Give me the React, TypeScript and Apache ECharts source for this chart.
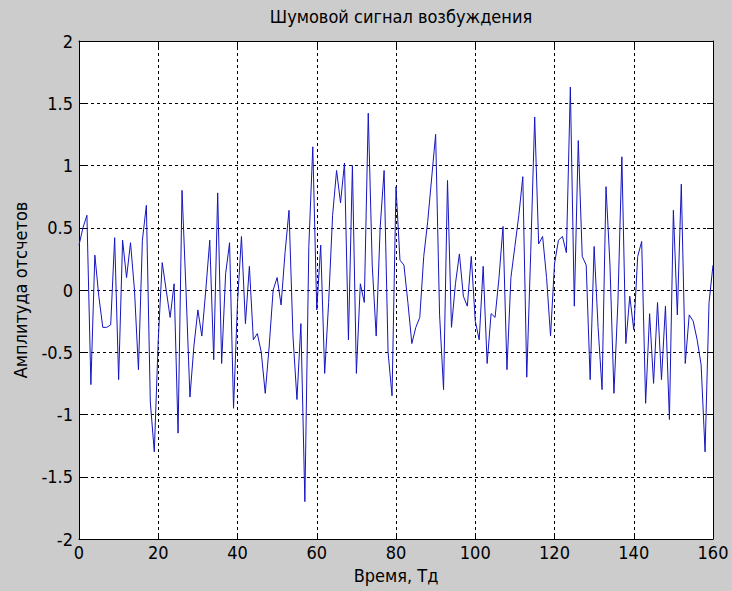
import { useEffect, useRef } from "react";
import * as echarts from "echarts";

const TITLE = "Шумовой сигнал возбуждения";
const X_NAME = "Время, Тд";
const Y_NAME = "Амплитуда отсчетов";
const X_MIN = 0;
const X_MAX = 160;
const X_STEP = 20;
const Y_MIN = -2;
const Y_MAX = 2;
const Y_STEP = 0.5;

// samples of the noise signal, one per Td (t = 0 … 160)
const signal = [
  0.36, 0.5, 0.6, -0.76, 0.28, -0.05, -0.3, -0.3, -0.28, 0.42,
  -0.72, 0.4, 0.1, 0.38, 0.0, -0.64, 0.4, 0.68, -0.9, -1.3,
  -0.4, 0.22, 0.0, -0.22, 0.05, -1.15, 0.8, 0.0, -0.86, -0.45,
  -0.16, -0.37, 0.0, 0.4, -0.56, 0.78, -0.59, 0.13, 0.38, -0.95,
  -0.1, 0.43, -0.27, 0.19, -0.4, -0.35, -0.5, -0.83, -0.45, 0.0,
  0.1, -0.12, 0.3, 0.64, -0.37, -0.88, -0.27, -1.7, 0.35, 1.15,
  -0.16, 0.36, -0.67, -0.1, 0.6, 0.96, 0.7, 1.02, -0.4, 1.0,
  -0.67, 0.05, -0.1, 1.42, 0.2, -0.37, 0.5, 0.96, -0.5, -0.85,
  0.83, 0.24, 0.2, -0.1, -0.43, -0.3, -0.22, 0.27, 0.55, 0.9,
  1.25, -0.2, -0.8, 0.88, -0.3, 0.05, 0.29, -0.05, -0.13, 0.27,
  -0.25, -0.4, 0.19, -0.59, -0.19, -0.22, 0.1, 0.51, -0.64, 0.1,
  0.35, 0.6, 0.91, -0.7, 0.3, 1.39, 0.37, 0.43, 0.1, -0.37,
  0.21, 0.4, 0.43, 0.3, 1.63, -0.13, 1.2, 0.27, 0.2, -0.72,
  0.35, -0.3, -0.8, 0.83, 0.2, -0.83, -0.1, 1.07, -0.43, -0.05,
  -0.32, 0.27, 0.39, -0.91, -0.19, -0.75, -0.1, -0.72, -0.13, -1.04,
  0.64, -0.2, 0.85, -0.59, -0.2, -0.25, -0.4, -0.6, -1.3, -0.1,
  0.2,
];

const FONT = "'Liberation Sans Narrow', 'DejaVu Sans Condensed', 'Liberation Sans', sans-serif";

export default function App() {
  const ref = useRef<HTMLDivElement>(null);
  useEffect(() => {
    document.body.style.margin = "0";
    const chart = echarts.init(ref.current!, null, { renderer: "svg" });
    const axisLine = { show: true, onZero: false, lineStyle: { color: "#000", width: 1 } };
    const axisTick = { show: true, inside: true, length: 6, lineStyle: { color: "#000", width: 1 } };
    const splitLine = { show: true, lineStyle: { color: "#000", width: 1, type: [3, 3] as number[] } };
    const labelStyle = { color: "#000", fontSize: 18, fontFamily: FONT };
    chart.setOption({
      animation: false,
      backgroundColor: "#cccccc",
      title: {
        text: TITLE,
        left: 396,
        top: 2,
        textAlign: "center",
        textStyle: { color: "#000", fontSize: 18, fontWeight: "normal", fontFamily: FONT },
      },
      grid: {
        left: 79,
        top: 41,
        width: 634,
        height: 498,
        show: true,
        backgroundColor: "#ffffff",
        borderWidth: 0,
      },
      xAxis: [
        {
          type: "value",
          position: "bottom",
          min: X_MIN,
          max: X_MAX,
          interval: X_STEP,
          axisLine,
          axisTick,
          splitLine,
          axisLabel: { ...labelStyle, margin: 4 },
          name: X_NAME,
          nameLocation: "middle",
          nameGap: 27,
          nameTextStyle: { ...labelStyle },
        },
        {
          type: "value",
          position: "top",
          min: X_MIN,
          max: X_MAX,
          interval: X_STEP,
          axisLine,
          axisTick,
          splitLine: { show: false },
          axisLabel: { show: false },
        },
      ],
      yAxis: [
        {
          type: "value",
          position: "left",
          min: Y_MIN,
          max: Y_MAX,
          interval: Y_STEP,
          axisLine,
          axisTick,
          splitLine,
          axisLabel: { ...labelStyle, margin: 6 },
          name: Y_NAME,
          nameLocation: "middle",
          nameGap: 50,
          nameTextStyle: { ...labelStyle },
        },
        {
          type: "value",
          position: "right",
          min: Y_MIN,
          max: Y_MAX,
          interval: Y_STEP,
          axisLine,
          axisTick,
          splitLine: { show: false },
          axisLabel: { show: false },
        },
      ],
      series: [
        {
          type: "line",
          xAxisIndex: 0,
          yAxisIndex: 0,
          showSymbol: false,
          symbol: "none",
          lineStyle: { color: "#1515c0", width: 1 },
          data: signal.map((v, i) => [i, v]),
        },
      ],
    });
    return () => chart.dispose();
  }, []);
  return (
    <div
      ref={ref}
      style={{ position: "fixed", left: 0, top: 0, width: 732, height: 591 }}
    />
  );
}
